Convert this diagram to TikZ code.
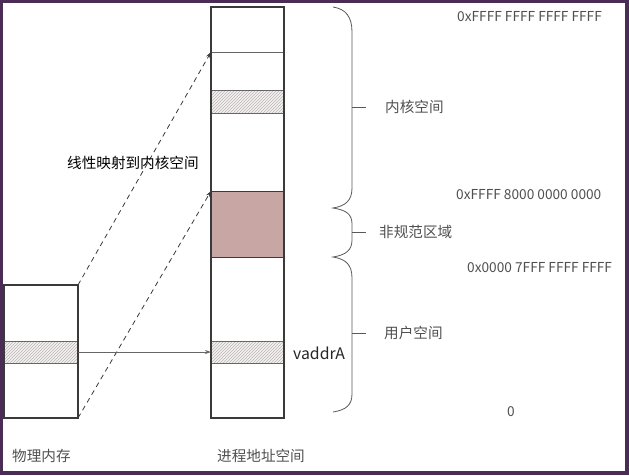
\documentclass[tikz,border=0pt]{standalone}
\usepackage{fontspec}
\setmainfont{Noto Sans CJK SC}
\usetikzlibrary{patterns,arrows.meta}
\definecolor{framec}{HTML}{4B2C55}
\definecolor{brownfill}{HTML}{C8A6A3}
\definecolor{linec}{HTML}{3A3A3A}
\definecolor{txt}{HTML}{505050}
\definecolor{bandbg}{HTML}{F6F0F0}
\begin{document}
\begin{tikzpicture}[x=1pt,y=-1pt,
  box/.style={draw=linec, line width=1.2pt, inner sep=0pt, outer sep=0pt},
  bandp/.style={fill=bandbg, postaction={pattern=north east lines, pattern color=gray!55}, inner sep=0pt, outer sep=0pt},
  brownbox/.style={fill=brownfill, draw=linec, line width=1pt, inner sep=0pt, outer sep=0pt},
  hline/.style={draw=gray!80!black, line width=0.8pt},
  dasharrow/.style={draw=linec, line width=0.8pt, dash pattern=on 5pt off 4pt, -{Stealth[length=6pt,width=4pt]}},
  solidarrow/.style={draw=gray!80!black, line width=0.8pt, -{Stealth[length=6pt,width=4pt]}},
  bracec/.style={draw=gray!70!black, line width=0.8pt},
  lbl/.style={font=\fontsize{14.6}{16}\selectfont, text=txt, inner sep=0pt, anchor=west},
  hexl/.style={font=\fontsize{13.7}{16}\selectfont, text=txt, inner sep=0pt, anchor=west}
]
\fill[framec] (0,0) rectangle (629,475);
\fill[white] (3,3) rectangle (625,471);
\useasboundingbox (0,0) rectangle (629,475);

% bands of the process address space
\node[bandp, minimum width=73pt, minimum height=23pt] (vasK) at (247.5,101.5) {};
\node[bandp, minimum width=73pt, minimum height=22pt] (vasA) at (247.5,352) {};
\node[brownbox, minimum width=73pt, minimum height=66pt] (nc) at (247.5,224) {};
\draw[hline] (211,52) -- (284,52);
\draw[hline] (vasK.north west) -- (vasK.north east);
\draw[hline] (vasK.south west) -- (vasK.south east);
\draw[hline] (vasA.north west) -- (vasA.north east);
\draw[hline] (vasA.south west) -- (vasA.south east);
\node[box, minimum width=73pt, minimum height=411pt] (vas) at (247.5,212.5) {};

% physical memory
\node[bandp, minimum width=74pt, minimum height=22pt] (physA) at (41,352) {};
\draw[hline] (physA.north west) -- (physA.north east);
\draw[hline] (physA.south west) -- (physA.south east);
\node[box, minimum width=74pt, minimum height=133pt] (phys) at (41,351.5) {};

% connectors
\coordinate (k1) at (211,52);
\draw[dasharrow] (phys.north east) -- (k1);
\draw[dasharrow] (phys.south east) -- (nc.north west);
\draw[solidarrow] (physA.east) -- (vasA.west);

% braces
\draw[bracec] (333,7) .. controls (346,9) and (352,17) .. (352,32) -- (352,188)
  .. controls (352,200) and (346,206) .. (333,208)
  .. controls (346,210) and (352,214) .. (352,224) -- (352,240)
  .. controls (352,250) and (346,255) .. (333,257)
  .. controls (346,259) and (352,265) .. (352,278) -- (352,394)
  .. controls (352,405) and (346,410) .. (333,412);
\draw[bracec] (352,107) -- (366,107);
\draw[bracec] (352,232) -- (366,232);
\draw[bracec] (352,333) -- (366,333);

% labels
\node[lbl] (lk) at (385,107) {内核空间};
\node[lbl] (lnc) at (379,232) {非规范区域};
\node[lbl] (lu) at (384,333) {用户空间};
\node[lbl, text=black] (lmap) at (67,163) {线性映射到内核空间};
\node[lbl, text=black!85, font=\fontsize{15.8}{17}\selectfont] (lva) at (293,353) {vaddrA};
\node[lbl] (lphys) at (12,456) {物理内存};
\node[lbl] (lvas) at (217,456) {进程地址空间};
\node[hexl] (h1) at (457,17) {0xFFFF FFFF FFFF FFFF};
\node[hexl] (h2) at (456,195) {0xFFFF 8000 0000 0000};
\node[hexl] (h3) at (467,268) {0x0000 7FFF FFFF FFFF};
\node[hexl] (h0) at (507,412) {0};
\end{tikzpicture}
\end{document}
